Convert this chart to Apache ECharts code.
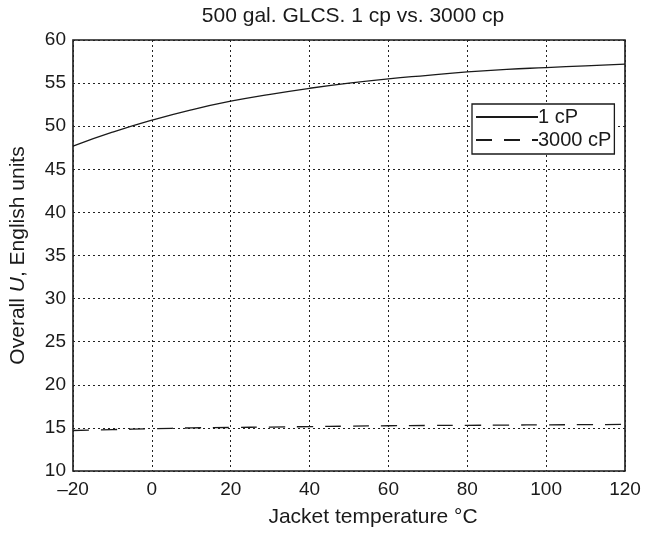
<!DOCTYPE html>
<html><head><meta charset="utf-8">
<script src="https://cdn.jsdelivr.net/npm/echarts@6/dist/echarts.min.js"></script>
<style>html,body{margin:0;padding:0;background:#fff}#c{width:647px;height:533px}</style>
</head><body><div id="c"></div>
<script>
var temps = [-20, -10, 0, 10, 20, 30, 40, 50, 60, 70, 80, 90, 100, 110, 120];
var u1cP = [47.7, 49.3, 50.7, 51.9, 52.9, 53.7, 54.4, 55.0, 55.5, 55.9, 56.3, 56.6, 56.8, 57.0, 57.2];
var u3000cP = [14.7, 14.8, 14.9, 15.0, 15.05, 15.1, 15.15, 15.2, 15.25, 15.28, 15.3, 15.33, 15.35, 15.38, 15.4];
var xTicks = [-20, 0, 20, 40, 60, 80, 100, 120];
var yTicks = [10, 15, 20, 25, 30, 35, 40, 45, 50, 55, 60];
var seriesNames = ['1 cP', '3000 cP'];
var titleText = '500 gal. GLCS. 1 cp vs. 3000 cp';

var font = 'Liberation Sans, Arial, sans-serif';
var chart = echarts.init(document.getElementById('c'));
function pairs(xs, ys){ return xs.map(function(x,i){return [x, ys[i]];}); }
chart.setOption({
  animation: false,
  backgroundColor: '#fff',
  title: {text: titleText, left: 348, textAlign: 'center', top: 1,
    textStyle: {fontFamily: font, fontSize: 21, fontWeight: 'normal', color: '#1a1a1a'}},
  grid: {left: 72, right: 22, top: 40, bottom: 57, show: true, borderColor: '#1a1a1a', borderWidth: 1.6, backgroundColor: 'transparent'},
  legend: {
    left: 472, top: 104, orient: 'vertical', align: 'left', itemWidth: 62, itemHeight: 12, itemGap: 3,
    backgroundColor: '#fff', borderColor: '#1a1a1a', borderWidth: 1.3, borderRadius: 0, padding: [3, 3, 4, 3],
    textStyle: {fontFamily: font, fontSize: 20, color: '#1a1a1a', padding: [0, 0, 0, -5]},
    itemStyle: {opacity: 0},
    data: seriesNames
  },
  xAxis: {
    type: 'value', min: -20, max: 120, interval: 20,
    name: 'Jacket temperature \u00B0C', nameLocation: 'middle', nameGap: 36,
    nameTextStyle: {fontFamily: font, fontSize: 21, color: '#1a1a1a', padding: [0, 0, 0, 48]},
    axisLine: {show: false}, axisTick: {show: false},
    axisLabel: {fontFamily: font, fontSize: 19, color: '#1a1a1a', margin: 9,
      formatter: function(v){ return v < 0 ? '\u2013' + Math.abs(v) : String(v); }},
    splitLine: {show: true, lineStyle: {color: '#222', type: [2, 3], width: 1}}
  },
  yAxis: {
    type: 'value', min: 10, max: 60, interval: 5,
    name: '{n|Overall }{i|U}{n|, English units}', nameLocation: 'middle', nameGap: 44,
    nameTextStyle: {rich: {n: {fontFamily: font, fontSize: 21, color: '#1a1a1a'}, i: {fontFamily: font, fontSize: 21, color: '#1a1a1a', fontStyle: 'italic'}}},
    axisLine: {show: false}, axisTick: {show: false},
    axisLabel: {fontFamily: font, fontSize: 19, color: '#1a1a1a', margin: 7},
    splitLine: {show: true, lineStyle: {color: '#222', type: [2, 3], width: 1}}
  },
  series: [
    {name: seriesNames[0], type: 'line', smooth: true, symbol: 'none', data: pairs(temps, u1cP),
      lineStyle: {color: '#1a1a1a', width: 1.3}, itemStyle: {color: '#1a1a1a'}},
    {name: seriesNames[1], type: 'line', smooth: true, symbol: 'none', data: pairs(temps, u3000cP),
      lineStyle: {color: '#1a1a1a', width: 1.3, type: [16, 12]}, itemStyle: {color: '#1a1a1a'}}
  ]
});
</script></body></html>
